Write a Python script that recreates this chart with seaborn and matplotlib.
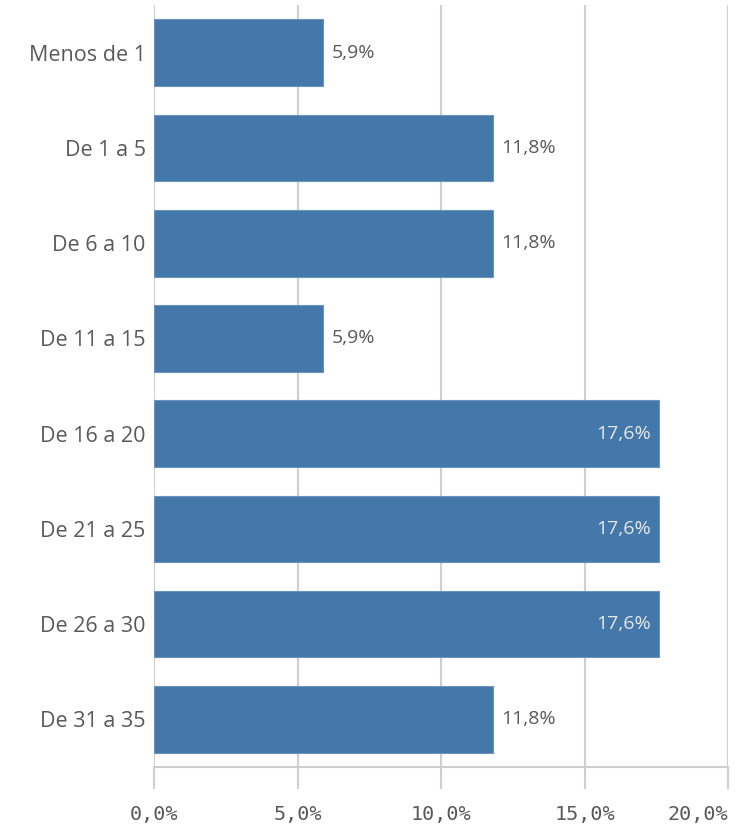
import matplotlib
matplotlib.use("Agg")
import matplotlib.pyplot as plt
import seaborn as sns
import pandas as pd

# data (share of respondents, %)
categorias = ["Menos de 1", "De 1 a 5", "De 6 a 10", "De 11 a 15",
              "De 16 a 20", "De 21 a 25", "De 26 a 30", "De 31 a 35"]
valores = [5.9, 11.8, 11.8, 5.9, 17.6, 17.6, 17.6, 11.8]
xticks = [0, 5, 10, 15, 20]
xtick_labels = ["0,0%", "5,0%", "10,0%", "15,0%", "20,0%"]

df = pd.DataFrame({"cat": categorias, "val": valores})

sns.set_style("white")
plt.rcParams["font.family"] = ["Open Sans", "DejaVu Sans"]

txt = "#595959"
grid = "#cfcfcf"
bar_col = "#4477aa"

fig = plt.figure(figsize=(7.49, 8.3), dpi=100)
ax = fig.add_axes([0.2056, 0.0759, 0.7664, 0.918])

ax.grid(axis="x", color=grid, lw=1.5, zorder=0)
ax.set_axisbelow(True)

sns.barplot(data=df, x="val", y="cat", orient="h", color=bar_col,
            saturation=1, width=0.7, edgecolor="#6a93bd", linewidth=0.8, ax=ax)

ax.set_xlim(0, 20)
ax.set_ylim(7.5, -0.5)
ax.set_xticks(xticks)
ax.set_xticklabels(xtick_labels, family="DejaVu Sans Mono")
ax.get_xticklabels()[-1].set_horizontalalignment("right")
ax.set_xlabel("")
ax.set_ylabel("")

for s in ["top", "right", "left"]:
    ax.spines[s].set_visible(False)
ax.spines["bottom"].set_color(grid)
ax.spines["bottom"].set_linewidth(1.5)

ax.tick_params(axis="x", bottom=True, direction="out", length=16, width=1.5,
               color=grid, labelsize=14.5, labelcolor=txt, pad=11)
ax.tick_params(axis="y", left=False, length=0, labelsize=15.5, labelcolor=txt, pad=6)

# value labels: inside (light) for long bars, outside otherwise
for i, v in enumerate(valores):
    lab = f"{v:.1f}%".replace(".", ",")
    if v >= 15:
        ax.annotate(lab, (v, i), xytext=(-6, 0), textcoords="offset points",
                    ha="right", va="center", fontsize=14, color="#e8e8e8")
    else:
        ax.annotate(lab, (v, i), xytext=(6, 0), textcoords="offset points",
                    ha="left", va="center", fontsize=14, color=txt)

fig.savefig("out.png", dpi=100)
